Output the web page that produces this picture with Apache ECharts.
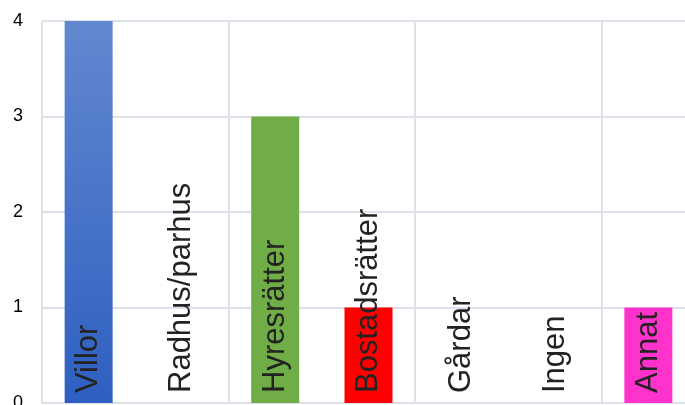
<!DOCTYPE html>
<html>
<head>
<meta charset="utf-8">
<script src="https://cdn.jsdelivr.net/npm/echarts@6/dist/echarts.min.js"></script>
<style>
html,body{margin:0;padding:0;background:#fff;}
#c{width:685px;height:405px;}
</style>
</head>
<body>
<div id="c"></div>
<script>
const categories = ['Villor', 'Radhus/parhus', 'Hyresrätter', 'Bostadsrätter', 'Gårdar', 'Ingen', 'Annat'];
const values = [4, 0, 3, 1, 0, 0, 1];
const yTicks = [0, 1, 2, 3, 4];

const villorGradient = new echarts.graphic.LinearGradient(0, 0, 0, 1, [
  {offset: 0, color: '#6288cf'},
  {offset: 1, color: '#2e5fc1'}
]);
const colors = [villorGradient, '#ffffff', '#70ad47', '#ff0000', '#ffffff', '#ffffff', '#ff33cc'];

const chart = echarts.init(document.getElementById('c'), null, {renderer: 'canvas'});
chart.setOption({
  animation: false,
  backgroundColor: '#ffffff',
  grid: {left: 42, right: -10, top: 21, bottom: 2, containLabel: false, outerBoundsMode: 'none'},
  xAxis: {
    type: 'category',
    data: categories,
    boundaryGap: true,
    axisLine: {show: true, lineStyle: {color: '#dde1ea', width: 2}},
    axisTick: {show: false},
    axisLabel: {show: false},
    splitLine: {show: true, lineStyle: {color: '#dde1ea', width: 2}}
  },
  yAxis: {
    type: 'value',
    min: yTicks[0],
    max: yTicks[yTicks.length - 1],
    interval: 1,
    axisLine: {show: false},
    axisTick: {show: false},
    axisLabel: {
      show: true,
      margin: 19,
      color: '#000',
      fontSize: 18,
      fontFamily: 'Liberation Sans, Arial, sans-serif'
    },
    splitLine: {show: true, lineStyle: {color: '#dde1ea', width: 2}}
  },
  series: [{
    type: 'bar',
    barWidth: 48,
    data: values.map((v, i) => ({value: v, itemStyle: {color: colors[i]}})),
    label: {
      show: true,
      position: 'insideBottom',
      rotate: 90,
      align: 'left',
      verticalAlign: 'middle',
      distance: 10,
      formatter: (p) => p.name,
      color: '#222',
      fontSize: 31,
      fontFamily: 'Liberation Sans, Arial, sans-serif'
    }
  }]
});
</script>
</body>
</html>
